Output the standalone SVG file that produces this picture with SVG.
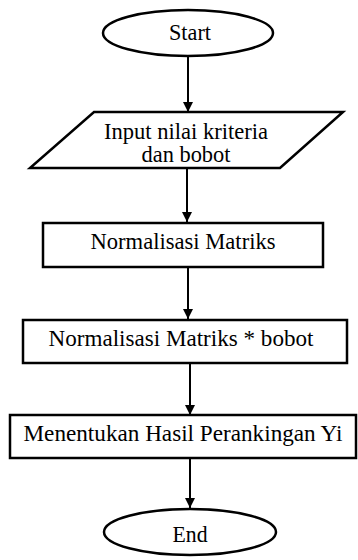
<svg xmlns="http://www.w3.org/2000/svg" width="358" height="560" viewBox="0 0 358 560">
  <style>
    .shape { fill: #ffffff; stroke: #000000; stroke-width: 2.5; }
    .label { font-family: 'Liberation Serif', 'Times New Roman', serif; font-size: 23px; fill: #000000; text-anchor: middle; }
    .edge { stroke: #000000; stroke-width: 2; fill: none; marker-end: url(#arrow); }
  </style>
  <defs>
    <marker id="arrow" markerWidth="10" markerHeight="10" refX="10" refY="5" orient="auto" markerUnits="userSpaceOnUse">
      <path d="M0,0 L10,5 L0,10 Z" fill="#000000"/>
    </marker>
  </defs>
  <rect width="358" height="560" fill="#ffffff"/>

  <g id="connectors">
    <line class="edge" x1="188" y1="57" x2="188" y2="112"/>
    <line class="edge" x1="187" y1="168" x2="187" y2="222"/>
    <line class="edge" x1="188" y1="268" x2="188" y2="319"/>
    <line class="edge" x1="190" y1="364" x2="190" y2="415"/>
    <line class="edge" x1="190" y1="459" x2="190" y2="508"/>
  </g>

  <g id="start">
    <ellipse class="shape" cx="188" cy="33" rx="85" ry="23"/>
    <text class="label" x="190" y="40" textLength="42" lengthAdjust="spacingAndGlyphs">Start</text>
  </g>

  <g id="input">
    <polygon class="shape" points="94,112 343,112 280,168 30,168"/>
    <text class="label" x="186" y="139" textLength="164" lengthAdjust="spacingAndGlyphs">Input nilai kriteria</text>
    <text class="label" x="186" y="162" textLength="89" lengthAdjust="spacingAndGlyphs">dan bobot</text>
  </g>

  <g id="normalisasi">
    <rect class="shape" x="43" y="223" width="280" height="44"/>
    <text class="label" x="183" y="249" textLength="185" lengthAdjust="spacingAndGlyphs">Normalisasi Matriks</text>
  </g>

  <g id="normalisasi-bobot">
    <rect class="shape" x="23" y="320" width="324" height="43"/>
    <text class="label" x="181" y="346" textLength="265" lengthAdjust="spacingAndGlyphs">Normalisasi Matriks * bobot</text>
  </g>

  <g id="perankingan">
    <rect class="shape" x="10" y="415" width="346" height="43"/>
    <text class="label" x="183" y="441" textLength="319" lengthAdjust="spacingAndGlyphs">Menentukan Hasil Perankingan Yi</text>
  </g>

  <g id="end">
    <ellipse class="shape" cx="190" cy="532" rx="86" ry="23"/>
    <text class="label" x="190" y="542" textLength="35" lengthAdjust="spacingAndGlyphs">End</text>
  </g>
</svg>
